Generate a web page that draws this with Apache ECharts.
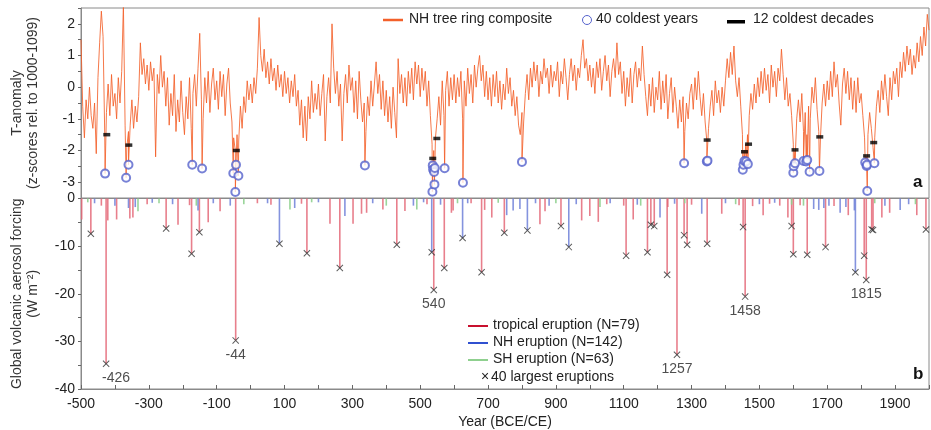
<!DOCTYPE html>
<html>
<head>
<meta charset="utf-8">
<script src="https://cdn.jsdelivr.net/npm/echarts@6/dist/echarts.min.js"></script>
<style>
  html, body { margin: 0; padding: 0; background: #fff; }
  #chart { width: 931px; height: 430px; }
</style>
</head>
<body>
<div id="chart"></div>
<script>
// NH tree ring composite, read every 5 years from -500 to 2000
const treeStart = -500;
const treeStep = 5;
const treeValues = [
  // -500 .. -405
  1.5, -0.6, -1.6, -0.4, -1.0, 0.0, -0.9, -1.3, -0.5, -2.1, 0.3, 1.4, 2.4, 1.6, -1.5, -0.8, 0.1, -0.9, 0.4, -0.6,
  // -400 .. -305
  -0.2, -1.0, 0.3, -0.5, 0.5, 2.6, -1.2, -1.9, -1.4, -1.2, -0.4, -1.3, -0.6, -1.1, -0.3, 1.4, 0.4, 0.9, 0.1, 0.7,
  // -300 .. -205
  -0.1, 0.8, 0.2, 0.6, -2.2, 0.4, -0.2, 1.0, 0.0, 0.5, -0.6, 0.3, -1.2, -0.2, -0.9, 0.4, -1.4, -0.4, -1.1, 0.2,
  // -200 .. -105
  -0.8, -1.5, -0.3, -1.0, 0.3, -1.3, -0.2, 0.4, -0.6, 0.6, 1.7, -0.4, -1.0, 0.3, -0.5, 0.5, -0.8, 0.1, 0.6, -0.4,
  // -100 .. -5
  0.2, -0.7, 0.5, -0.3, 0.4, -0.9, 0.1, 0.6, -0.5, -1.1, -1.6, -2.0, -1.5, -1.7, -0.6, -1.3, -0.3, -0.8, 0.2, -0.4,
  // 0 .. 95
  0.1, -0.5, 0.3, -0.2, 0.6, 2.2, 1.0, 0.5, 1.2, 0.3, 0.8, 0.1, 0.9, 0.2, 0.6, -0.1, 0.7, 0.0, 0.4, -0.3,
  // 100 .. 195
  0.5, -0.2, 0.3, -0.5, 0.2, -0.3, 0.4, -0.6, -0.1, -1.2, -0.4, -1.6, -0.6, -1.7, -0.3, -1.0, 0.2, -0.8, -0.2, -0.7,
  // 200 .. 295
  0.1, -0.9, -0.2, 0.4, -1.7, -0.3, 0.3, -0.5, 2.0, 0.6, -0.2, 0.5, -0.6, 0.1, -1.7, -0.2, 0.4, -0.5, 0.7, -0.1,
  // 300 .. 395
  0.3, -0.8, 0.2, -1.0, 0.5, -0.4, -1.1, -0.5, -1.4, -0.3, -0.9, 0.2, -0.6, 0.1, 0.8, -0.2, 0.4, -0.7, 0.2, -0.9,
  // 400 .. 495
  -0.1, -1.1, -0.3, -1.3, 0.0, -0.8, -1.6, 0.9, -0.2, 0.4, -0.5, 0.3, -0.6, 0.5, -0.2, 0.6, -0.4, 0.8, 0.1, 0.7,
  // 500 .. 595
  -0.3, 0.6, -0.1, 0.5, -0.6, 0.2, -0.9, -1.8, -2.0, -1.6, -1.0, -0.3, -1.2, 0.2, -0.9, -0.1, 0.5, -0.6, 0.3, -0.4,
  // 600 .. 695
  0.4, -0.5, 0.3, -0.3, 0.5, -1.0, 0.2, -0.6, 0.6, -0.2, 0.4, -0.5, 0.7, 0.0, 0.6, 1.0, 0.2, 0.7, -0.3, 0.5,
  // 700 .. 795
  -0.4, 0.3, -0.6, 0.4, -0.3, 0.5, -0.5, 0.2, -0.7, 0.1, -0.4, 0.6, -0.2, 0.3, -0.6, -0.1, -0.9, -0.3, -1.2, -1.5,
  // 800 .. 895
  -0.8, -1.1, -0.2, 0.4, -0.4, 0.6, 0.0, 0.8, 0.2, 0.7, -0.3, 0.5, 0.1, 0.9, 0.3, 0.6, -0.2, 0.7, 0.0, 0.5,
  // 900 .. 995
  0.2, 0.8, -0.3, 0.5, 0.1, 0.9, 0.3, -0.4, 0.4, 0.9, 0.2, 0.7, -0.1, 0.6, 0.3, 1.0, 1.5, 0.6, 0.9, 0.2,
  // 1000 .. 1095
  0.7, 0.0, 0.6, -0.2, 0.8, 0.3, 0.9, -0.1, 0.5, 1.0, 0.2, 0.7, -0.3, 0.5, 0.9, 0.3, 1.4, 0.4, 0.8, -0.2,
  // 1100 .. 1195
  0.5, -0.6, 0.3, -0.3, 0.6, -0.5, 0.4, 0.8, 0.0, 0.6, 0.2, 1.3, 0.4, -0.3, -0.9, 0.1, -0.6, 0.3, -0.8, 0.0,
  // 1200 .. 1295
  -0.4, 0.5, -0.7, 0.2, -0.5, 0.4, -1.0, -0.2, 0.3, -0.8, 0.0, -0.6, -1.3, -0.4, -1.1, -0.3, -1.4, -0.5, -1.0, -0.2,
  // 1300 .. 1395
  0.1, -0.7, 0.3, -0.4, 0.5, -0.3, -0.9, -0.2, -1.1, -1.7, -1.3, -0.6, -0.1, -0.9, 0.2, -0.5, -0.1, -0.8, 0.0, -0.6,
  // 1400 .. 1495
  0.2, 0.9, 0.3, 1.1, 0.4, 1.3, 0.2, -0.3, 0.3, -0.6, -1.5, -2.0, -1.8, -1.5, -0.9, -0.2, -0.7, 0.1, -0.5, 0.3,
  // 1500 .. 1595
  -0.3, 0.5, -0.2, 0.6, -0.1, 0.4, -0.5, 0.7, 0.0, 0.5, -0.3, 0.6, 0.2, 1.2, 0.4, -0.4, 0.3, -0.6, -0.2, -0.9,
  // 1600 .. 1695
  -1.8, -2.0, -1.0, -0.4, -1.1, -0.2, -1.4, -0.8, -1.5, -0.6, -1.0, 0.0, -0.5, 0.3, -0.7, -1.4, -1.6, -0.5, 0.1, -0.6,
  // 1700 .. 1795
  0.2, -0.4, 0.5, -0.3, 0.8, 0.0, 0.4, -0.5, -1.2, 0.1, 0.6, -0.2, 0.5, -0.4, 0.3, -0.7, 0.2, -0.8, 0.3, -0.5,
  // 1800 .. 1895
  -0.2, -0.9, -1.6, -2.2, -1.5, -0.8, -1.3, -1.9, -1.6, -0.6, -0.1, -0.8, 0.2, -0.4, 0.4, -0.3, -0.9, 0.3, -0.4, 0.5,
  // 1900 .. 2000
  0.1, 0.6, -0.3, 0.8, 0.3, 1.1, 0.5, 1.3, 0.7, 1.2, 0.4, 1.0, 0.6, 1.4, 0.8, 1.6, 1.0, 1.9, 1.3, 2.3, 1.8
];

// 40 coldest years (blue circles)
const coldYears = [-429, -367, -360, -172, -143, -51, -45, -43, -36, 337,
  536, 537, 538, 541, 542, 543, 572, 626, 800, 1278,
  1345, 1347, 1451, 1453, 1456, 1461, 1466, 1600, 1601, 1605,
  1630, 1638, 1641, 1648, 1677, 1812, 1816, 1817, 1818, 1839];
const coldValues = [-2.73, -2.86, -2.45, -2.45, -2.57, -2.72, -3.31, -2.45, -2.8, -2.47,
  -3.3, -2.47, -2.6, -2.68, -3.07, -2.55, -2.56, -3.02, -2.36, -2.4,
  -2.35, -2.32, -2.61, -2.45, -2.33, -2.35, -2.43, -2.7, -2.5, -2.4,
  -2.33, -2.35, -2.3, -2.67, -2.65, -2.38, -2.49, -2.45, -3.28, -2.4];

// 12 coldest decades (black dashes)
const decadeYears = [-424, -359, -42, 537, 549, 1346, 1456, 1468, 1605, 1678, 1816, 1837];
const decadeValues = [-1.5, -1.83, -2.0, -2.25, -1.62, -1.67, -2.04, -1.8, -1.98, -1.57, -2.17, -1.75];

// 40 largest eruptions (x markers)  t = tropical, n = NH
const largestYears = [-471, -426, -249, -174, -151, -44, 85, 166, 263, 431,
  534, 540, 571, 625, 681, 748, 816, 915, 938, 1107,
  1170, 1180, 1190, 1228, 1257, 1278, 1287, 1346, 1452, 1458,
  1595, 1600, 1641, 1695, 1783, 1809, 1815, 1831, 1835, 1991];
const largestValues = [-7.4, -34.7, -6.3, -11.6, -7.1, -29.8, -9.5, -11.5, -14.6, -9.7,
  -11.3, -19.2, -14.6, -8.3, -15.5, -7.2, -6.7, -5.8, -10.2, -12.0,
  -11.3, -5.5, -5.8, -16.0, -32.8, -7.7, -9.7, -9.5, -6.0, -20.6,
  -5.8, -11.7, -11.8, -10.2, -15.5, -12.0, -17.1, -6.5, -6.6, -6.5];
const largestTypes = ['t', 't', 't', 't', 't', 't', 'n', 't', 't', 't',
  'n', 't', 't', 'n', 't', 't', 'n', 't', 'n', 't',
  't', 't', 't', 't', 't', 't', 't', 't', 't', 't',
  't', 't', 't', 't', 'n', 't', 't', 't', 't', 't'];
const labelledYears = [-426, -44, 540, 1257, 1458, 1815];

// smaller eruptions
const tropicalYears = [-498, -440, -421, -395, -356, -347, -305, -214, -180, -125, -90, 20, 60, 150, 234, 302, 327, 342,
  390, 455, 520, 592, 597, 650, 690, 711, 853, 868, 976, 1000, 1025, 1050, 1100, 1128, 1230, 1300, 1389, 1440,
  1480, 1511, 1530, 1560, 1584, 1620, 1720, 1762, 1861, 1884, 1964];
const tropicalValues = [-4.4, -1.5, -4.6, -4.4, -4.2, -4.0, -1.2, -5.5, -1.4, -5.0, -2.7, -1.0, -1.3, -1.1, -5.3, -5.3, -3.2, -3.0,
  -2.3, -2.6, -1.2, -3.0, -2.5, -1.0, -2.4, -4.0, -5.4, -2.7, -4.6, -3.7, -4.9, -1.2, -1.5, -4.4, -1.8, -1.3, -3.2, -1.4,
  -1.6, -3.5, -1.1, -1.5, -4.0, -1.4, -1.6, -3.5, -4.0, -3.0, -3.5];
const nhYears = [-460, -400, -360, -340, -290, -230, -155, -110, -60, 50, 130, 200, 278, 360, 480, 510, 560, 640, 755, 774,
  794, 840, 880, 960, 1060, 1140, 1207, 1250, 1330, 1400, 1500, 1545, 1660, 1675, 1690, 1705, 1738, 1755, 1780, 1870, 1915, 1940];
const nhValues = [-1.0, -1.5, -2.0, -1.8, -0.9, -1.2, -2.5, -1.0, -1.5, -1.0, -2.0, -0.8, -3.7, -1.0, -1.5, -0.8, -1.3, -1.0, -3.5, -2.5,
  -2.2, -1.0, -1.5, -1.2, -1.0, -1.3, -4.0, -1.1, -3.2, -1.0, -1.2, -0.9, -2.2, -2.4, -2.0, -1.5, -3.0, -1.8, -2.5, -1.5, -2.4, -1.2];
const shYears = [-480, -332, -270, -160, -20, 116, 180, 400, 490, 610, 730, 900, 1030, 1150, 1280, 1430, 1595, 1630, 1840, 1960];
const shValues = [-0.8, -2.7, -1.0, -1.5, -1.2, -2.3, -0.8, -1.5, -2.3, -1.0, -0.9, -1.0, -1.8, -1.5, -1.0, -1.2, -1.3, -1.5, -1.0, -1.2];

// 组合年轮序列，冷年插入其中
const treeLine = treeValues.map((v, i) => [treeStart + i * treeStep, v])
  .concat(coldYears.map((y, i) => [y, coldValues[i]]))
  .sort((a, b) => a[0] - b[0]);

const pairs = (xs, ys) => xs.map((x, i) => [x, ys[i]]);
const largestOf = (type) => largestYears
  .map((y, i) => [y, largestValues[i], largestTypes[i]])
  .filter((d) => d[2] === type)
  .map((d) => [d[0], d[1]]);

const font = "'Liberation Sans', Arial, sans-serif";
const axisColor = "#8a8a8a";

let option = {
  animation: false,
  textStyle: { fontFamily: font },
  grid: [
    { left: 81, right: 2, top: 8, height: 190, show: true, borderColor: axisColor, borderWidth: 1, outerBoundsMode: "none", containLabel: false },
    { left: 81, right: 2, top: 198.5, height: 190.5, show: true, borderColor: axisColor, borderWidth: 1, outerBoundsMode: "none", containLabel: false },
  ],
  xAxis: [
    {
      type: "value", gridIndex: 0, min: -500, max: 2000, interval: 100,
      axisLine: { show: false, onZero: false }, axisTick: { show: false }, axisLabel: { show: false }, splitLine: { show: false },
    },
    {
      type: "value", gridIndex: 1, min: -500, max: 2000, interval: 100,
      name: "Year (BCE/CE)", nameLocation: "middle", nameGap: 26,
      nameTextStyle: { fontSize: 14, color: "#222", fontFamily: font },
      axisLine: { onZero: false, lineStyle: { color: axisColor } },
      axisTick: { inside: true, length: 4, lineStyle: { color: "#666" } },
      axisLabel: {
        fontSize: 14, color: "#222", margin: 8, fontFamily: font,
        formatter: (v) => ((v + 500) % 200 === 0 ? String(v) : ""),
      },
      splitLine: { show: false },
    },
  ],
  yAxis: [
    {
      type: "value", gridIndex: 0, min: -3.5, max: 2.5, interval: 0.5,
      name: "T-anomaly\n(z-scores rel. to 1000-1099)", nameLocation: "middle", nameGap: 40, nameRotate: 90,
      nameTextStyle: { fontSize: 14, color: "#333", lineHeight: 16, fontFamily: font },
      axisLine: { show: true, onZero: false, lineStyle: { color: axisColor } },
      axisTick: { show: true, length: 3, lineStyle: { color: "#666" } },
      axisLabel: {
        fontSize: 14, color: "#222", margin: 6, fontFamily: font,
        formatter: (v) => (Number.isInteger(v) ? String(v) : ""),
      },
      splitLine: { show: false },
    },
    {
      type: "value", gridIndex: 1, min: -40, max: 0, interval: 5,
      name: "Global volcanic aerosol forcing\n(W m\u207B\u00B2)", nameLocation: "middle", nameGap: 40, nameRotate: 90,
      nameTextStyle: { fontSize: 14, color: "#333", lineHeight: 16, fontFamily: font },
      axisLine: { show: true, onZero: false, lineStyle: { color: axisColor } },
      axisTick: { show: true, length: 3, lineStyle: { color: "#666" } },
      axisLabel: {
        fontSize: 14, color: "#222", margin: 6, fontFamily: font,
        formatter: (v) => (v % 10 === 0 ? String(v) : ""),
      },
      splitLine: { show: false },
    },
  ],
  series: [
    {
      name: "NH tree ring composite",
      type: "line",
      xAxisIndex: 0, yAxisIndex: 0,
      data: treeLine,
      showSymbol: false, symbol: "none",
      lineStyle: { color: "#f3602a", width: 1, opacity: 0.85 },
      z: 2,
    },
    {
      name: "40 coldest years",
      type: "scatter",
      xAxisIndex: 0, yAxisIndex: 0,
      data: pairs(coldYears, coldValues),
      symbol: "emptyCircle", symbolSize: 8,
      itemStyle: { color: "#5562cc", borderWidth: 1 },
      z: 4,
    },
    {
      name: "12 coldest decades",
      type: "scatter",
      xAxisIndex: 0, yAxisIndex: 0,
      data: pairs(decadeYears, decadeValues),
      symbol: "rect", symbolSize: [7, 3.5],
      itemStyle: { color: "#000" },
      z: 5,
    },
    {
      name: "tropical eruption",
      type: "bar",
      xAxisIndex: 1, yAxisIndex: 1,
      data: pairs(tropicalYears, tropicalValues).concat(largestOf("t")),
      barWidth: 1.6, barGap: "-100%",
      itemStyle: { color: "#e46878", opacity: 0.85 },
    },
    {
      name: "NH eruption",
      type: "bar",
      xAxisIndex: 1, yAxisIndex: 1,
      data: pairs(nhYears, nhValues).concat(largestOf("n")),
      barWidth: 1.6, barGap: "-100%",
      itemStyle: { color: "#6f80d8", opacity: 0.85 },
    },
    {
      name: "SH eruption",
      type: "bar",
      xAxisIndex: 1, yAxisIndex: 1,
      data: pairs(shYears, shValues),
      barWidth: 1.6, barGap: "-100%",
      itemStyle: { color: "#8fd08f", opacity: 0.9 },
    },
    {
      name: "40 largest eruptions",
      type: "scatter",
      xAxisIndex: 1, yAxisIndex: 1,
      data: largestYears.map((y, i) => ({
        value: [y, largestValues[i]],
        label: {
          show: labelledYears.includes(y),
          position: "bottom",
          distance: 4,
          offset: y === -426 ? [10, 0] : [0, 0],
          formatter: String(y),
          fontSize: 14, color: "#222", fontFamily: font,
        },
      })),
      symbol: "path://M0,1L1,0L10,9L9,10Z M9,0L10,1L1,10L0,9Z",
      symbolSize: 7,
      itemStyle: { color: "#333" },
      z: 5,
    },
  ],
  graphic: [
    // 上图图例
    { type: "line", shape: { x1: 383, y1: 20, x2: 403, y2: 20 }, style: { stroke: "#f3602a", lineWidth: 2.5 } },
    { type: "text", left: 409, top: 12, style: { text: "NH tree ring composite", fontSize: 14, fill: "#222", fontFamily: font } },
    { type: "circle", shape: { cx: 587, cy: 20, r: 4.5 }, style: { fill: "none", stroke: "#5562cc", lineWidth: 1 } },
    { type: "text", left: 596, top: 12, style: { text: "40 coldest years", fontSize: 14, fill: "#222", fontFamily: font } },
    { type: "rect", shape: { x: 727, y: 20, width: 18, height: 3.5 }, style: { fill: "#000" } },
    { type: "text", left: 753, top: 12, style: { text: "12 coldest decades", fontSize: 14, fill: "#222", fontFamily: font } },
    // 下图图例
    { type: "line", shape: { x1: 468, y1: 326, x2: 488, y2: 326 }, style: { stroke: "#c8102e", lineWidth: 2 } },
    { type: "text", left: 493, top: 318, style: { text: "tropical eruption (N=79)", fontSize: 14, fill: "#222", fontFamily: font } },
    { type: "line", shape: { x1: 468, y1: 343, x2: 488, y2: 343 }, style: { stroke: "#3050d0", lineWidth: 2 } },
    { type: "text", left: 493, top: 335, style: { text: "NH eruption (N=142)", fontSize: 14, fill: "#222", fontFamily: font } },
    { type: "line", shape: { x1: 468, y1: 360, x2: 488, y2: 360 }, style: { stroke: "#8fd08f", lineWidth: 2 } },
    { type: "text", left: 493, top: 352, style: { text: "SH eruption (N=63)", fontSize: 14, fill: "#222", fontFamily: font } },
    { type: "text", left: 481, top: 370, style: { text: "\u00D7", fontSize: 14, fill: "#222", fontFamily: font } },
    { type: "text", left: 491, top: 370, style: { text: "40 largest eruptions", fontSize: 14, fill: "#222", fontFamily: font } },
    // 面板字母
    { type: "text", left: 913, top: 174, style: { text: "a", fontSize: 17, fontWeight: "bold", fill: "#111", fontFamily: font } },
    { type: "text", left: 913, top: 366, style: { text: "b", fontSize: 17, fontWeight: "bold", fill: "#111", fontFamily: font } },
  ],
};

let myChart = echarts.init(document.getElementById("chart"));
myChart.setOption(option, true);
</script>
</body>
</html>
